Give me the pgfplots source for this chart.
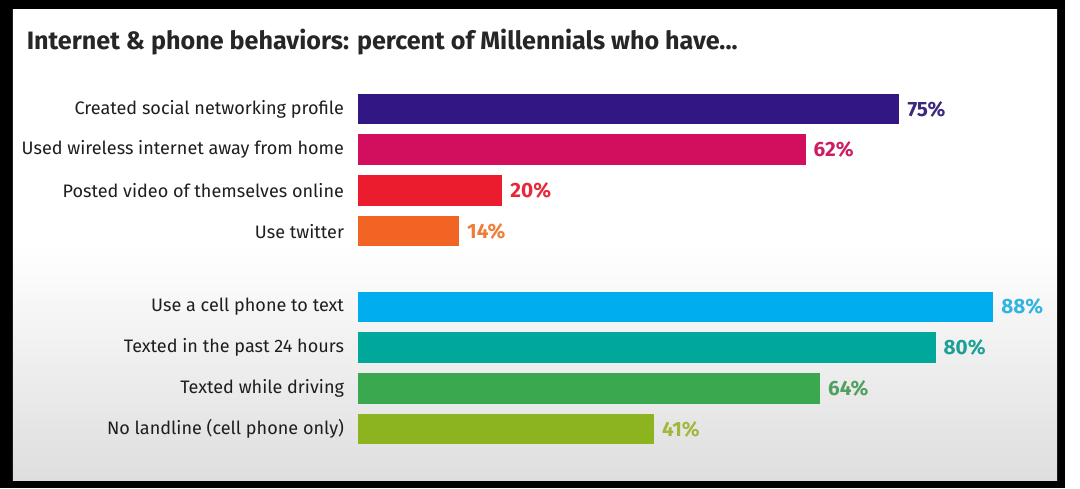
\documentclass[border=0pt]{standalone}
\usepackage{pgfplots}
\pgfplotsset{compat=1.18}
\usepackage{fontspec}
\setmainfont{Fira Sans}
\definecolor{c1}{RGB}{50,22,132}
\definecolor{c2}{RGB}{210,15,95}
\definecolor{c3}{RGB}{235,28,45}
\definecolor{c4}{RGB}{242,100,35}
\definecolor{c5}{RGB}{0,174,239}
\definecolor{c6}{RGB}{0,168,155}
\definecolor{c7}{RGB}{58,168,78}
\definecolor{c8}{RGB}{140,180,30}
\definecolor{t1}{RGB}{60,40,125}
\definecolor{t2}{RGB}{205,30,100}
\definecolor{t3}{RGB}{230,40,55}
\definecolor{t4}{RGB}{240,125,55}
\definecolor{t5}{RGB}{50,180,225}
\definecolor{t6}{RGB}{30,160,150}
\definecolor{t7}{RGB}{80,160,95}
\definecolor{t8}{RGB}{160,185,60}
\definecolor{lab}{RGB}{30,30,30}
\begin{document}
\begin{tikzpicture}[x=1pt,y=1pt]
\fill[black] (0,0) rectangle (1080,495);
\shade[top color=white,bottom color=black!13,middle color=white] (13,8) rectangle (1072,485);
\node[anchor=base west,inner sep=0pt,font=\fontsize{25.5}{30}\selectfont\bfseries,text=black!85] at (27,445) {Internet \& phone behaviors: percent of Millennials who have...};
\begin{axis}[
  at={(363pt,425.8pt)}, anchor=north west,
  scale only axis, width=732pt, height=406.8pt,
  xmin=0, xmax=100, ymin=-1, ymax=8.85, y dir=reverse,
  xbar, bar width=31pt, bar shift=0pt,
  axis line style={draw=none}, major tick length=0pt,
  xtick=\empty,
  ytick={0,1,2,3,4.86,5.86,6.86,7.86},
  yticklabels={Created social networking profile,Used wireless internet away from home,Posted video of themselves online,Use twitter,Use a cell phone to text,Texted in the past 24 hours,Texted while driving,No landline (cell phone only)},
  yticklabel style={font=\fontsize{18.3}{21}\selectfont, text=lab, anchor=east, inner sep=0pt, xshift=-14pt},
  clip=false,
  /pgf/number format/assume math mode=true,
  nodes near coords={\pgfmathprintnumber{\pgfplotspointmeta}\%},
  point meta=x,
  nodes near coords style={anchor=west, inner sep=0pt, xshift=8pt, font=\fontsize{21}{24}\selectfont\bfseries},
]
\addplot[fill=c1,draw=none,nodes near coords style={text=t1}] coordinates {(75,0)};
\addplot[fill=c2,draw=none,nodes near coords style={text=t2}] coordinates {(62,1)};
\addplot[fill=c3,draw=none,nodes near coords style={text=t3}] coordinates {(20,2)};
\addplot[fill=c4,draw=none,nodes near coords style={text=t4}] coordinates {(14,3)};
\addplot[fill=c5,draw=none,nodes near coords style={text=t5}] coordinates {(88,4.86)};
\addplot[fill=c6,draw=none,nodes near coords style={text=t6}] coordinates {(80,5.86)};
\addplot[fill=c7,draw=none,nodes near coords style={text=t7}] coordinates {(64,6.86)};
\addplot[fill=c8,draw=none,nodes near coords style={text=t8}] coordinates {(41,7.86)};
\end{axis}
\end{tikzpicture}
\end{document}
